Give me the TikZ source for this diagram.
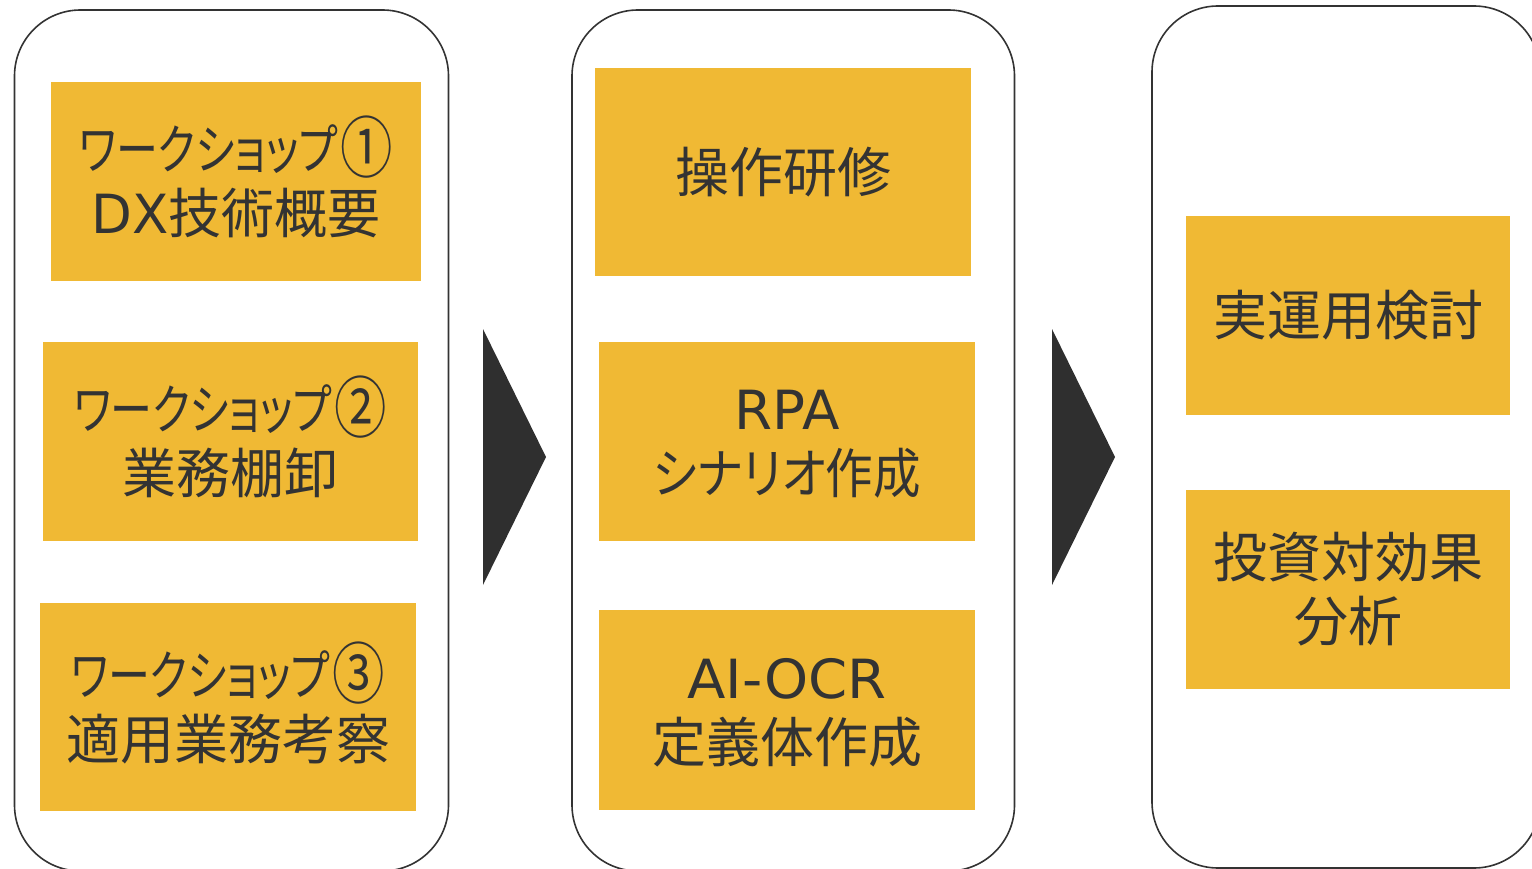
\documentclass[tikz,border=0pt]{standalone}
\usepackage{fontspec}
\usepackage{graphicx}
\setmainfont{Noto Sans CJK JP}
\newfontfamily\kanafont{Noto Sans CJK JP}[RawFeature=+palt]
\newfontfamily\latinfont{DejaVu Sans}
% set one line to a given width, keeping its height
\newcommand{\fitline}[2]{\resizebox{#1pt}{\height}{#2}}
\newcommand{\kanjistrut}{\vphantom{漢}}
% enlarged circled number after the workshop title
\newcommand{\circnum}[1]{\hspace{3pt}\smash{\raisebox{-3pt}{\scalebox{0.97}[1.24]{#1}}}}
\newcommand{\workshop}[1]{\fitline{258}{\kanafont ワークショップ}\circnum{#1}}
\definecolor{boxyellow}{HTML}{F0B934}
\definecolor{ink}{HTML}{333333}
\definecolor{chevronfill}{HTML}{2F2F2F}
\tikzset{
  container/.style={draw=ink, line width=1.6pt, rounded corners=66pt, inner sep=0pt},
  task/.style={fill=boxyellow, inner sep=0pt, align=center, text=ink,
    font=\fontsize{54}{64}\selectfont},
  chevron/.style={fill=chevronfill}
}
\begin{document}
\begin{tikzpicture}[x=1pt,y=-1pt]
\useasboundingbox (0,0) rectangle (1532,869);
\clip (0,0) rectangle (1532,869);

% three phase frames
\node[container, minimum width=434, minimum height=861] (c1) at (231.5,440.5) {};
\node[container, minimum width=442.5, minimum height=861] (c2) at (793.25,440.5) {};
\node[container, minimum width=388, minimum height=862] (c3) at (1346,437) {};

% phase 1: workshops
\node[task, minimum width=370, minimum height=199] (t1) at (236,181.5)
  {\workshop{①}\\\fitline{289}{{\latinfont DX}技術概要}};
\node[task, minimum width=375, minimum height=199] (t2) at (230.5,441.5)
  {\workshop{②}\\業務棚卸};
\node[task, minimum width=376, minimum height=208] (t3) at (228,707)
  {\workshop{③}\\適用業務考察};

% phase 2: training and build
\node[task, minimum width=376, minimum height=208] (t4) at (783,172) {操作研修};
\node[task, minimum width=376, minimum height=199] (t5) at (787,441.5)
  {\kanjistrut\fitline{105}{\latinfont RPA}\\\fitline{267}{\kanafont シナリオ作成}};
\node[task, minimum width=376, minimum height=200] (t6) at (787,710)
  {\kanjistrut\fitline{199}{\latinfont AI-OCR}\\定義体作成};

% phase 3: evaluation
\node[task, minimum width=324, minimum height=199] (t7) at (1348,315.5) {実運用検討};
\node[task, minimum width=324, minimum height=199] (t8) at (1348,589.5)
  {投資対効果\\分析};

% chevrons between phases
\fill[chevron] (483,329) -- (546,457) -- (483,585) -- cycle;
\fill[chevron] (1052,329) -- (1115,457) -- (1052,585) -- cycle;
\end{tikzpicture}
\end{document}
